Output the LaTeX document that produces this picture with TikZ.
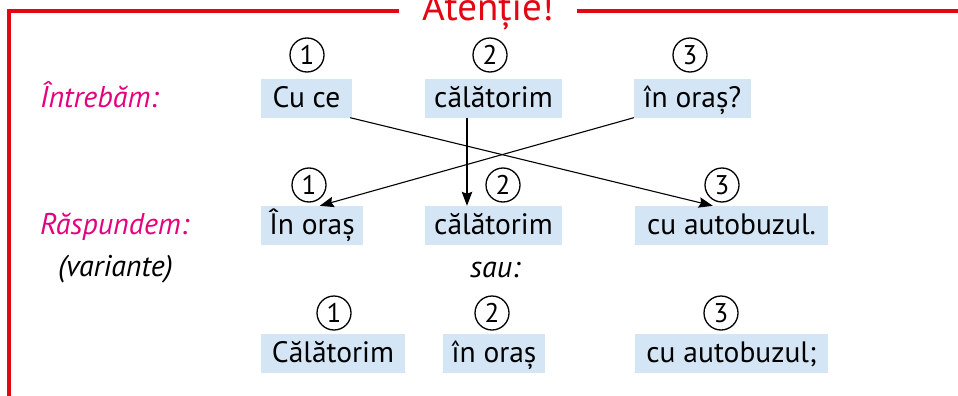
\documentclass[tikz,border=0pt]{standalone}
\usepackage{fontspec}
\setmainfont{PT Sans}
\usetikzlibrary{arrows.meta}
\definecolor{framered}{HTML}{E30613}
\definecolor{labmag}{HTML}{E5007D}
\definecolor{boxblue}{HTML}{D4E6F6}
\tikzset{
  wbox/.style={fill=boxblue, inner xsep=0pt, inner ysep=0pt, text height=28pt, text depth=10.5pt, minimum height=38.5pt, font=\fontsize{29.5}{32}\selectfont, anchor=base},
  numc/.style={circle, draw=black, line width=1.3pt, minimum size=34pt, inner sep=0pt, font=\fontsize{27}{28}\selectfont},
  lab/.style={anchor=base west, font=\fontsize{30}{32}\selectfont\itshape, inner sep=0pt},
  arr/.style={line width=1.1pt, -{Stealth[length=14pt,width=10.5pt,inset=2pt]}},
}
\begin{document}
\begin{tikzpicture}[x=1pt,y=-1pt]
\useasboundingbox (0,0) rectangle (958,396);
\clip (0,0) rectangle (958,396);
% frame
\draw[framered, line width=3.6pt] (399,11) -- (9,11) -- (9,400);
\draw[framered, line width=3.6pt] (577,11) -- (962,11);
\node[text=framered, anchor=base, inner sep=0pt, font=\fontsize{39}{42}\selectfont] (title) at (488,21) {Atenție!};
% labels
\node[lab, text=labmag] (lq) at (40,107) {Întrebăm:};
\node[lab, text=labmag] (la) at (40,234) {Răspundem:};
\node[lab] (lv) at (58,276) {(variante)};
\node[lab] (lsau) at (470,277) {sau:};
% row 1
\node[wbox, minimum width=91pt] (q1) at (306.5,107) {Cu ce};
\node[wbox, minimum width=137pt] (q2) at (493.5,107) {călătorim};
\node[wbox, minimum width=117pt] (q3) at (692.5,107) {în oraș?};
\node[numc] (n11) at (307,55) {1};
\node[numc] (n12) at (490,55) {2};
\node[numc] (n13) at (690,55) {3};
% row 2
\node[wbox, minimum width=102pt] (a1) at (312,234) {În oraș};
\node[wbox, minimum width=137pt] (a2) at (493.5,234) {călătorim};
\node[wbox, minimum width=193pt] (a3) at (731.5,234) {cu autobuzul.};
\node[numc] (n21) at (309,185) {1};
\node[numc] (n22) at (503,185) {2};
\node[numc] (n23) at (722,185) {3};
% row 3
\node[wbox, minimum width=144pt] (b1) at (333,362) {Călătorim};
\node[wbox, minimum width=102pt] (b2) at (494,362) {în oraș};
\node[wbox, minimum width=193pt] (b3) at (731.5,362) {cu autobuzul;};
\node[numc] (n31) at (334,313) {1};
\node[numc] (n32) at (492,313) {2};
\node[numc] (n33) at (721,313) {3};
% arrows
\draw[arr] ([xshift=-2pt]q1.south east) -- ([xshift=78pt]a3.north west);
\draw[arr] ([xshift=-26.5pt]q2.south) -- ([xshift=-26.5pt]a2.north);
\draw[arr] (q3.south west) -- ([xshift=59pt]a1.north west);
\end{tikzpicture}
\end{document}
